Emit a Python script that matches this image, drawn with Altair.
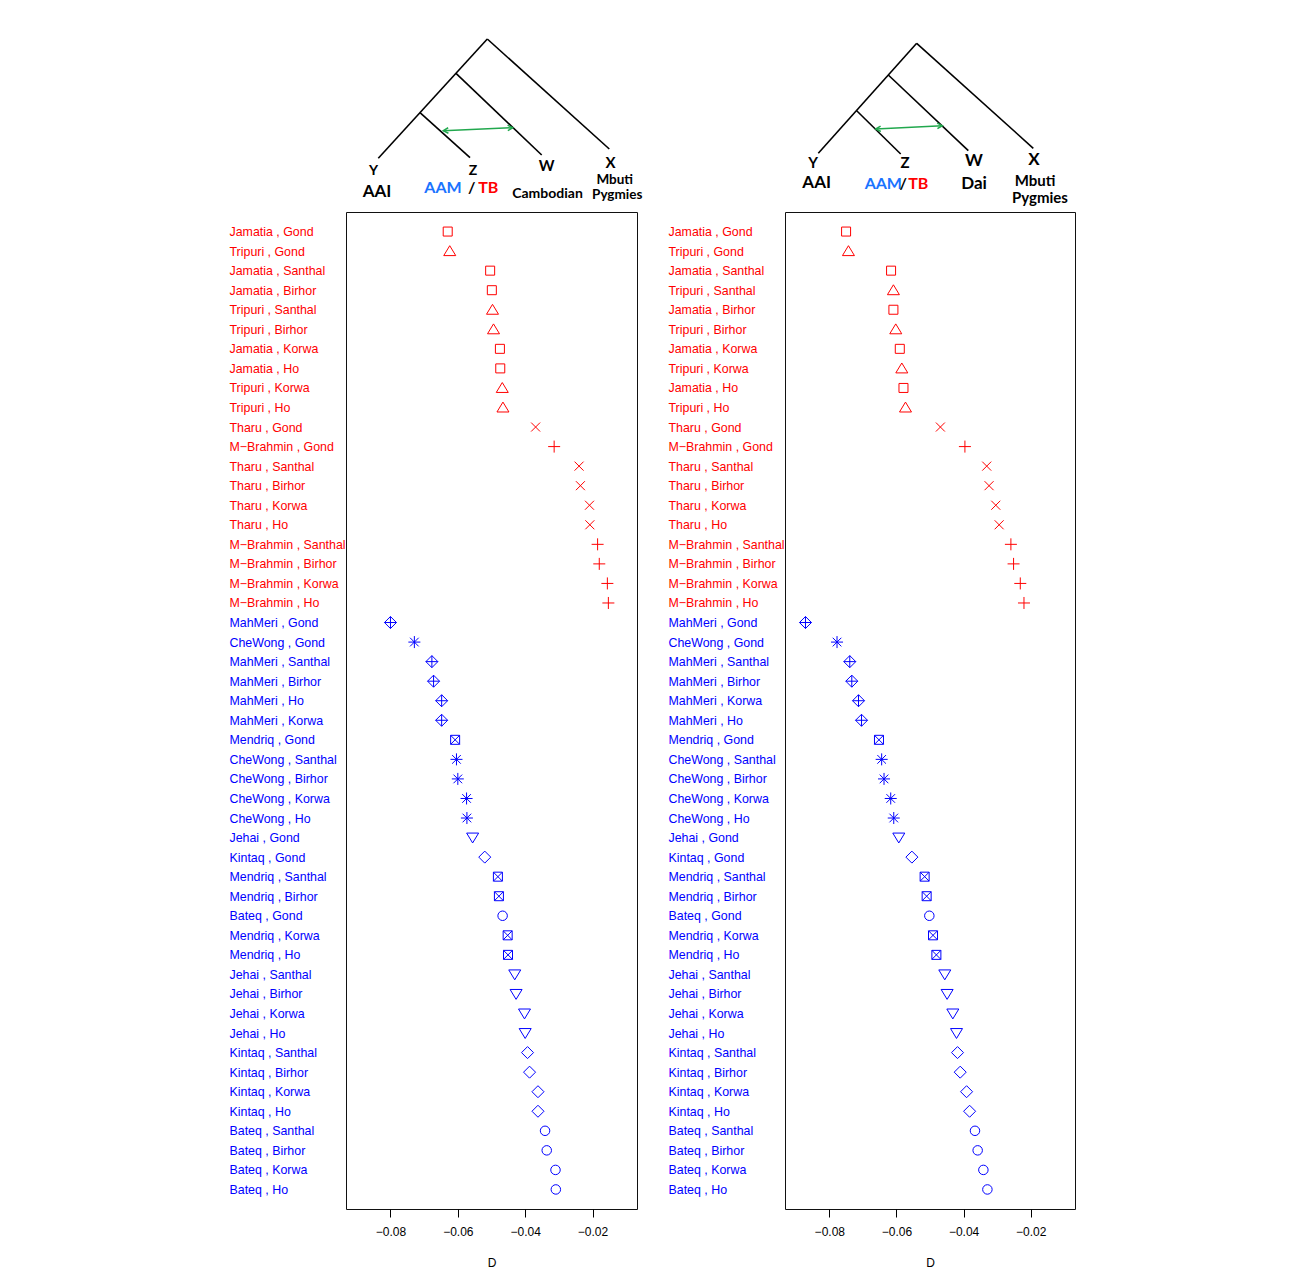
import json
import altair as alt
import pandas as pd

# ---------------- data ----------------
left_labels = [
    "Jamatia , Gond", "Tripuri , Gond", "Jamatia , Santhal", "Jamatia , Birhor",
    "Tripuri , Santhal", "Tripuri , Birhor", "Jamatia , Korwa", "Jamatia , Ho",
    "Tripuri , Korwa", "Tripuri , Ho", "Tharu , Gond", "M−Brahmin , Gond",
    "Tharu , Santhal", "Tharu , Birhor", "Tharu , Korwa", "Tharu , Ho",
    "M−Brahmin , Santhal", "M−Brahmin , Birhor", "M−Brahmin , Korwa", "M−Brahmin , Ho",
    "MahMeri , Gond", "CheWong , Gond", "MahMeri , Santhal", "MahMeri , Birhor",
    "MahMeri , Ho", "MahMeri , Korwa", "Mendriq , Gond", "CheWong , Santhal",
    "CheWong , Birhor", "CheWong , Korwa", "CheWong , Ho", "Jehai , Gond",
    "Kintaq , Gond", "Mendriq , Santhal", "Mendriq , Birhor", "Bateq , Gond",
    "Mendriq , Korwa", "Mendriq , Ho", "Jehai , Santhal", "Jehai , Birhor",
    "Jehai , Korwa", "Jehai , Ho", "Kintaq , Santhal", "Kintaq , Birhor",
    "Kintaq , Korwa", "Kintaq , Ho", "Bateq , Santhal", "Bateq , Birhor",
    "Bateq , Korwa", "Bateq , Ho",
]
left_D = [
    -0.0630, -0.0624, -0.0504, -0.0499, -0.0497, -0.0494, -0.0475, -0.0474,
    -0.0468, -0.0466, -0.0369, -0.0314, -0.0240, -0.0236, -0.0209, -0.0208,
    -0.0185, -0.0180, -0.0156, -0.0153,
    -0.0800, -0.0729, -0.0677, -0.0672, -0.0648, -0.0648, -0.0608, -0.0604,
    -0.0600, -0.0574, -0.0573, -0.0556, -0.0520, -0.0481, -0.0478, -0.0467,
    -0.0452, -0.0451, -0.0431, -0.0427, -0.0402, -0.0400, -0.0393, -0.0387,
    -0.0362, -0.0362, -0.0341, -0.0336, -0.0310, -0.0309,
]

right_labels = [
    "Jamatia , Gond", "Tripuri , Gond", "Jamatia , Santhal", "Tripuri , Santhal",
    "Jamatia , Birhor", "Tripuri , Birhor", "Jamatia , Korwa", "Tripuri , Korwa",
    "Jamatia , Ho", "Tripuri , Ho", "Tharu , Gond", "M−Brahmin , Gond",
    "Tharu , Santhal", "Tharu , Birhor", "Tharu , Korwa", "Tharu , Ho",
    "M−Brahmin , Santhal", "M−Brahmin , Birhor", "M−Brahmin , Korwa", "M−Brahmin , Ho",
    "MahMeri , Gond", "CheWong , Gond", "MahMeri , Santhal", "MahMeri , Birhor",
    "MahMeri , Korwa", "MahMeri , Ho", "Mendriq , Gond", "CheWong , Santhal",
    "CheWong , Birhor", "CheWong , Korwa", "CheWong , Ho", "Jehai , Gond",
    "Kintaq , Gond", "Mendriq , Santhal", "Mendriq , Birhor", "Bateq , Gond",
    "Mendriq , Korwa", "Mendriq , Ho", "Jehai , Santhal", "Jehai , Birhor",
    "Jehai , Korwa", "Jehai , Ho", "Kintaq , Santhal", "Kintaq , Birhor",
    "Kintaq , Korwa", "Kintaq , Ho", "Bateq , Santhal", "Bateq , Birhor",
    "Bateq , Korwa", "Bateq , Ho",
]
right_D = [
    -0.0750, -0.0743, -0.0616, -0.0609, -0.0609, -0.0602, -0.0590, -0.0584,
    -0.0579, -0.0573, -0.0469, -0.0396, -0.0331, -0.0324, -0.0304, -0.0294,
    -0.0259, -0.0251, -0.0231, -0.0220,
    -0.0871, -0.0777, -0.0739, -0.0733, -0.0713, -0.0704, -0.0652, -0.0644,
    -0.0637, -0.0617, -0.0608, -0.0593, -0.0554, -0.0516, -0.0510, -0.0502,
    -0.0491, -0.0481, -0.0456, -0.0449, -0.0432, -0.0421, -0.0418, -0.0410,
    -0.0391, -0.0382, -0.0366, -0.0358, -0.0341, -0.0329,
]

x_ticks = [-0.08, -0.06, -0.04, -0.02]
x_domain = [-0.0932, -0.0068]

red_pops = ["Jamatia", "Tripuri", "Tharu", "M−Brahmin"]

# R-like plotting symbols as custom paths (unit box [-1, 1])
shape_paths = {
    "Jamatia": "M-0.75,-0.75L0.75,-0.75L0.75,0.75L-0.75,0.75Z",
    "Tripuri": "M0,-0.9L1,0.75L-1,0.75Z",
    "Tharu": "M-0.75,-0.75L0.75,0.75M-0.75,0.75L0.75,-0.75",
    "M−Brahmin": "M-1,0L1,0M0,-1L0,1",
    "MahMeri": "M0,-1L1,0L0,1L-1,0ZM-1,0L1,0M0,-1L0,1",
    "CheWong": "M-1,0L1,0M0,-1L0,1M-0.72,-0.72L0.72,0.72M-0.72,0.72L0.72,-0.72",
    "Mendriq": "M-0.75,-0.75L0.75,-0.75L0.75,0.75L-0.75,0.75ZM-0.75,-0.75L0.75,0.75M-0.75,0.75L0.75,-0.75",
    "Jehai": "M0,0.9L1,-0.75L-1,-0.75Z",
    "Kintaq": "M0,-1L1,0L0,1L-1,0Z",
    "Bateq": "circle",
}
shape_sizes = {k: 144 for k in shape_paths}
shape_sizes["Bateq"] = 90

# ---- tree diagrams (schematic units, origin = top-left of panel) ----
left_tree = dict(
    x1=[141.3, 141.3, 110.0, 74.0], y1=[4.0, 4.0, 38.3, 77.7],
    x2=[263.3, 32.3, 195.7, 124.0], y2=[114.0, 123.3, 120.0, 122.7],
    ax=[97.3, 166.7], ay=[95.7, 92.7],
    text=["Y", "AAI", "Z", "AAM", "/", "TB", "W", "Cambodian", "X", "Mbuti", "Pygmies"],
    tx=[27.5, 31.0, 127.0, 97.0, 125.7, 142.3, 200.7, 201.5, 264.5, 268.7, 271.2],
    ty=[136.2, 157.0, 136.2, 153.0, 153.0, 153.0, 130.8, 158.7, 128.0, 145.3, 160.0],
    ts=[14, 17, 14, 16, 16, 16, 15, 14, 15, 13.5, 13.5],
)
right_tree = dict(
    x1=[131.7, 131.7, 103.3, 71.7], y1=[8.3, 8.3, 40.0, 75.7],
    x2=[248.3, 33.3, 183.3, 115.7], y2=[113.3, 118.3, 115.7, 119.0],
    ax=[90.7, 157.3], ay=[94.0, 90.7],
    text=["Y", "AAI", "Z", "AAM", "/", "TB", "W", "Dai", "X", "Mbuti", "Pygmies"],
    tx=[28.0, 31.7, 120.0, 98.3, 118.3, 133.3, 189.0, 189.0, 249.0, 250.0, 255.0],
    ty=[127.5, 147.5, 128.0, 148.5, 148.5, 148.5, 125.5, 149.3, 124.5, 146.0, 163.3],
    ts=[15, 17, 15, 16, 16, 16, 17, 17, 17, 15, 15],
)
text_colors = {"AAM": "#1a73ff", "TB": "#ff0000"}

TREE_H = 175
PLOT_H = 997


def tree_chart(t, width):
    xs = alt.Scale(domain=[0, width], nice=False, zero=False)
    ys = alt.Scale(domain=[0, TREE_H], nice=False, zero=False, reverse=True)
    seg = pd.DataFrame({"x1": t["x1"], "y1": t["y1"], "x2": t["x2"], "y2": t["y2"]})
    lines = alt.Chart(seg).mark_rule(color="black", strokeWidth=1.6).encode(
        x=alt.X("x1:Q", scale=xs, axis=None),
        y=alt.Y("y1:Q", scale=ys, axis=None),
        x2="x2:Q", y2="y2:Q",
    )
    arr = pd.DataFrame({"x1": [t["ax"][0]], "y1": [t["ay"][0]],
                        "x2": [t["ax"][1]], "y2": [t["ay"][1]]})
    green = "#22a84e"
    arrow_line = alt.Chart(arr).mark_rule(color=green, strokeWidth=1.5).encode(
        x=alt.X("x1:Q", scale=xs, axis=None),
        y=alt.Y("y1:Q", scale=ys, axis=None),
        x2="x2:Q", y2="y2:Q",
    )
    heads = pd.DataFrame({
        "x": t["ax"], "y": t["ay"],
        "shape": ["M1,-0.55L0,0L1,0.55", "M-1,-0.55L0,0L-1,0.55"],
    })
    arrow_heads = alt.Chart(heads).mark_point(
        filled=False, color=green, strokeWidth=1.5, size=100, angle=357.5, opacity=1
    ).encode(
        x=alt.X("x:Q", scale=xs, axis=None),
        y=alt.Y("y:Q", scale=ys, axis=None),
        shape=alt.Shape("shape:N", scale=None),
    )
    lab = pd.DataFrame({"text": t["text"], "x": t["tx"], "y": t["ty"], "size": t["ts"]})
    lab["color"] = [text_colors.get(s, "black") for s in lab["text"]]
    texts = alt.Chart(lab).mark_text(
        font="Lato", fontWeight="bold", align="center", baseline="middle"
    ).encode(
        x=alt.X("x:Q", scale=xs, axis=None),
        y=alt.Y("y:Q", scale=ys, axis=None),
        text="text:N",
        size=alt.Size("size:Q", scale=None),
        color=alt.Color("color:N", scale=None),
    )
    return alt.layer(lines, arrow_line, arrow_heads, texts).properties(
        width=width, height=TREE_H, view=alt.ViewBackground(strokeOpacity=0)
    )


def dot_chart(labels, values, width):
    df = pd.DataFrame({"label": labels, "D": values})
    df["pop"] = [l.split(" , ")[0] for l in labels]
    df["color"] = ["#ff0000" if p in red_pops else "#0000ff" for p in df["pop"]]
    df["shape"] = [shape_paths[p] for p in df["pop"]]
    df["size"] = [shape_sizes[p] for p in df["pop"]]
    red_labels = [l for l in labels if l.split(" , ")[0] in red_pops]
    test = "indexof(%s, datum.value) >= 0" % json.dumps(red_labels, ensure_ascii=False)
    return alt.Chart(df).mark_point(filled=False, strokeWidth=1, opacity=1).encode(
        x=alt.X(
            "D:Q",
            scale=alt.Scale(domain=x_domain, nice=False, zero=False),
            axis=alt.Axis(
                values=x_ticks, format=".2f", title="D", grid=False, domain=False,
                tickSize=8, tickColor="black", tickWidth=1, labelPadding=9,
                labelFontSize=12, labelColor="black", labelFont="Liberation Sans",
                titleFont="Liberation Sans", titleFontSize=12, titleFontWeight="normal",
                titleColor="black", titlePadding=20,
            ),
        ),
        y=alt.Y(
            "label:N", sort=labels, scale=alt.Scale(padding=1),
            axis=alt.Axis(
                title=None, ticks=False, domain=False, grid=False,
                labelAlign="left", labelPadding=117, labelFontSize=12.4,
                labelFont="Liberation Sans", labelLimit=220,
                labelColor={"condition": {"test": test, "value": "#ff0000"},
                            "value": "#0000ff"},
            ),
        ),
        color=alt.Color("color:N", scale=None),
        shape=alt.Shape("shape:N", scale=None),
        size=alt.Size("size:Q", scale=None),
    ).properties(
        width=width, height=PLOT_H,
        view=alt.ViewBackground(stroke="#111111", strokeWidth=1),
    )


left = alt.vconcat(tree_chart(left_tree, 291), dot_chart(left_labels, left_D, 291), spacing=1)
right = alt.vconcat(tree_chart(right_tree, 290), dot_chart(right_labels, right_D, 290), spacing=1)

chart = alt.hconcat(left, right, spacing=24).properties(
    padding={"left": 220, "top": 27, "right": 5, "bottom": 5}
).configure_view(stroke="#111111", strokeWidth=1).configure(font="Liberation Sans")

chart.save("out.html", embed_options={"renderer": "svg", "actions": False})
